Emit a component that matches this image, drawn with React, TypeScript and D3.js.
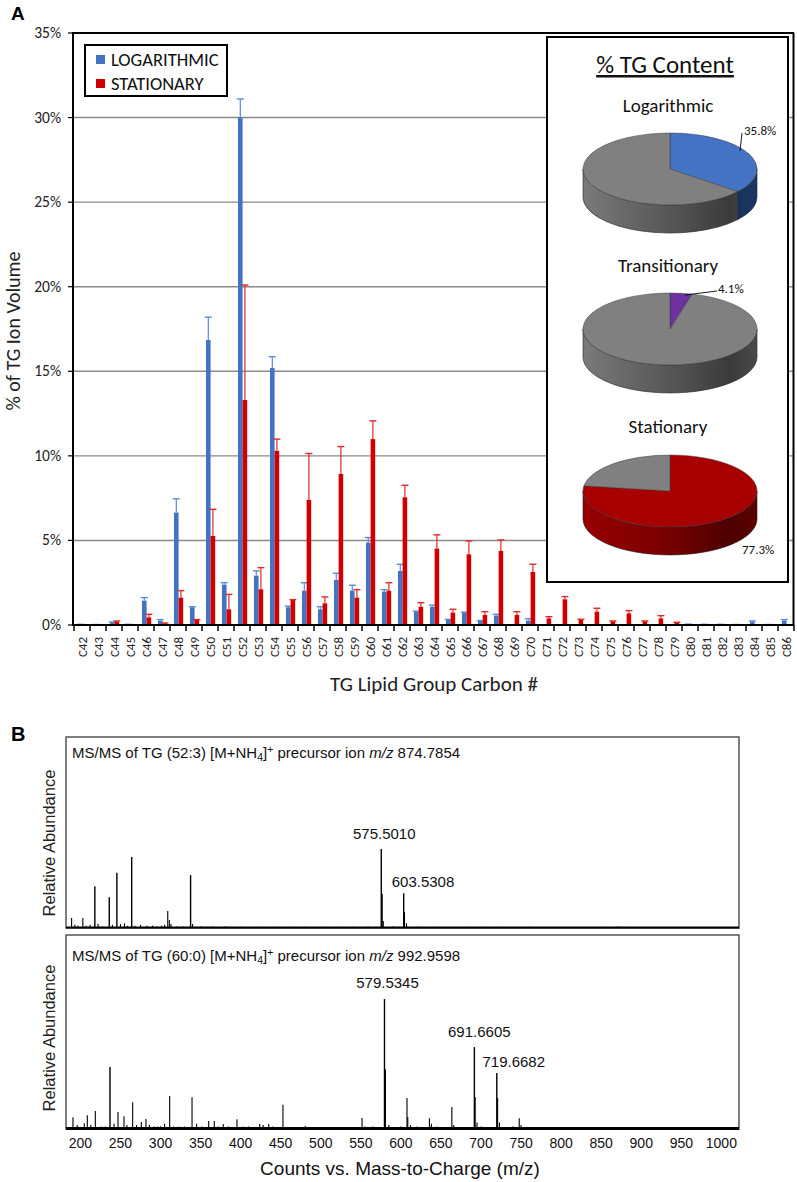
import React from 'react';
import * as d3 from 'd3';

// ---------- Panel A data ----------
const categories = ['C42','C43','C44','C45','C46','C47','C48','C49','C50','C51','C52','C53','C54','C55','C56','C57','C58','C59','C60','C61','C62','C63','C64','C65','C66','C67','C68','C69','C70','C71','C72','C73','C74','C75','C76','C77','C78','C79','C80','C81','C82','C83','C84','C85','C86'];
const logValues = [0.03,0.02,0.16,0.03,1.44,0.26,6.65,1.05,16.85,2.39,30.0,2.92,15.19,1.05,2.03,0.93,2.66,2.03,4.87,1.97,3.2,0.79,1.08,0.3,0.73,0.24,0.55,0,0.26,0,0,0,0,0,0,0,0,0,0.04,0.03,0.03,0.02,0.2,0.02,0.26];
const logErrors = [0.01,0.01,0.02,0.01,0.18,0.06,0.81,0.03,1.35,0.11,1.1,0.28,0.67,0.07,0.47,0.15,0.4,0.32,0.3,0.12,0.39,0.03,0.1,0.03,0.03,0.02,0.08,0,0.11,0,0,0,0,0,0,0,0,0,0.01,0.01,0.01,0.01,0.04,0.01,0.06];
const statValues = [0,0,0.2,0,0.45,0.1,1.62,0.3,5.27,0.93,13.3,2.11,10.3,1.48,7.4,1.28,8.93,1.62,10.99,2.03,7.55,1.08,4.52,0.73,4.18,0.59,4.38,0.59,3.14,0.39,1.52,0.3,0.79,0.22,0.69,0.22,0.39,0.14,0,0,0,0,0,0,0];
const statErrors = [0,0,0.04,0,0.18,0.02,0.41,0.02,1.57,0.88,6.8,1.28,0.69,0.02,2.74,0.38,1.62,0.47,1.08,0.47,0.71,0.24,0.81,0.2,0.79,0.2,0.65,0.2,0.45,0.1,0.16,0.04,0.2,0.02,0.16,0.02,0.16,0.02,0,0,0,0,0,0,0];
const yTicks = [0,5,10,15,20,25,30,35];
const seriesNames = ['LOGARITHMIC','STATIONARY'];

const pieTitles = ['Logarithmic','Transitionary','Stationary'];
const pieValues = [35.8, 4.1, 77.3];
const pieLabels = ['35.8%','4.1%','77.3%'];

// ---------- Panel B data ----------
const spec1Mz = [189,203,218,236,245.5,264,309,337.5,575.5,576.5,603.5,604.5,
  193,197,207,212,222,228,240,250,255,259,268,275,283,290,296,301,305,311,313,320,329,340,350,365,381,400,421,442,461,480,502,521,540,559,578,590,607,621,641,683,702,727,760,852,871,884];
const spec1Ab = [12.7,12.7,53,39,70,90,21.5,67,100,43,44,20,
  4,3,3,4,5,2,4,5,6,3,3,4,3,3,2,3,4,10,5,2,2,5,2,2,2,1.5,1.5,1.5,1.5,1.5,1.5,1.5,1.5,2,9,2,6,2,1.5,1.5,1.5,1.5,1.5,1.5,2,1.5];
const spec2Mz = [190.7,196,204.8,208.6,213,218.6,226,231,236.9,242,246.9,254.4,258,265.2,270,276,281.8,286,292,296,300,305,311.4,316,323,330,339.3,345,352,360.1,367.1,372,378.3,385,395.4,403,410,423.8,428,435,440,452.8,465,480.7,500,520,530,551.5,555,565,579.5,580.5,585,600,607.6,608.6,612,620,635.6,638,645,663.6,666,691.7,692.7,695,700,719.7,720.7,723,740,747.7,750,780,800,830,880,920,960,990];
const spec2Ab = [9,3,4.4,10.5,3,13.8,2,2,47.7,4,13,9.8,3,20.5,3,5.4,7.7,3,2,2,2,4,25.4,2,2,2,24.4,4,2,6.2,6.2,2,3.8,2,7.5,2,2,3.8,3,3.8,2,18.7,1.5,2.3,1.5,1.5,1.5,8.5,2,2,100,46,3,2,23.8,9.2,3,2,8.2,4,2,16.9,3,63,24.6,5,2,43,23.8,5,2,8.2,3,1.5,1.5,1.5,1.5,1.5,1.5,1.5];
const mzTicks = [200,250,300,350,400,450,500,550,600,650,700,750,800,850,900,950,1000];
const spec1Annot = [575.5010, 603.5308];
const spec1AnnotAb = [100, 44];
const spec2Annot = [579.5345, 691.6605, 719.6682];
const spec2AnnotAb = [100, 63, 43];

const BAR_FONT = "Carlito, Lato, 'Open Sans', sans-serif";
const SPEC_FONT = "'Liberation Sans', Arial, sans-serif";
const BLUE = '#4472C4';
const RED = '#D00000';

function BarPanel() {
  const left = 73, right = 794, top = 33, bottom = 625;
  const x0 = d3.scaleBand<string>().domain(categories).range([74, 794]);
  const x1 = d3.scaleBand<string>().domain(seriesNames).range([4, x0.bandwidth() - 2.8]);
  const y = d3.scaleLinear().domain([0, 35]).range([bottom, top]);
  const series = [
    { name: seriesNames[0], vals: logValues, errs: logErrors, color: BLUE, ecolor: '#5b8bd8' },
    { name: seriesNames[1], vals: statValues, errs: statErrors, color: RED, ecolor: '#e02a2a' },
  ];
  return (
    <g>
      <text x={11} y={20} fontFamily="Arial, 'Liberation Sans'" fontWeight="bold" fontSize={19}>A</text>
      {yTicks.filter(t => t > 0 && t < 35).map(t => (
        <line key={t} x1={left} x2={right} y1={y(t)} y2={y(t)} stroke="#8a8a8a" strokeWidth={1.4} />
      ))}
      {yTicks.map(t => (
        <g key={'yt' + t}>
          <line x1={left - 5} x2={left} y1={y(t)} y2={y(t)} stroke="#000" strokeWidth={1.2} />
          <text x={61} y={y(t) + 5} textAnchor="end" fontFamily={BAR_FONT} fontSize={15.5} fill="#222">{t}%</text>
        </g>
      ))}
      {series.map(s => categories.map((c, i) => {
        const v = s.vals[i];
        const bx = (x0(c) as number) + (x1(s.name) as number);
        const bw = x1.bandwidth();
        const cx = bx + bw / 2;
        const e = s.errs[i];
        return (
          <g key={s.name + c}>
            {v > 0 && <rect x={bx} y={y(v)} width={bw} height={y(0) - y(v)} fill={s.color} />}
            {e > 0 && <>
              <line x1={cx} x2={cx} y1={y(v)} y2={y(v + e)} stroke={s.ecolor} strokeWidth={1.2} />
              <line x1={cx - 3.5} x2={cx + 3.5} y1={y(v + e)} y2={y(v + e)} stroke={s.ecolor} strokeWidth={1.4} />
            </>}
          </g>
        );
      }))}
      {/* frame */}
      <line x1={left} x2={right} y1={top} y2={top} stroke="#000" strokeWidth={2} />
      <line x1={right - 0.5} x2={right - 0.5} y1={top} y2={bottom} stroke="#000" strokeWidth={2} />
      <line x1={left} x2={left} y1={top - 1} y2={bottom + 1} stroke="#000" strokeWidth={2} />
      <line x1={left} x2={right} y1={bottom} y2={bottom} stroke="#000" strokeWidth={2} />
      {categories.map(c => (
        <line key={'xt' + c} x1={x0(c)} x2={x0(c)} y1={bottom} y2={bottom + 6} stroke="#000" strokeWidth={1.5} />
      ))}
      <line x1={794} x2={794} y1={bottom} y2={bottom + 6} stroke="#000" strokeWidth={1.5} />
      {categories.map(c => {
        const cx = (x0(c) as number) + x0.bandwidth() / 2 + 5;
        return (
          <text key={'xl' + c} transform={`translate(${cx},637) rotate(-90)`} textAnchor="end"
            fontFamily={BAR_FONT} fontSize={13} fill="#222">{c}</text>
        );
      })}
      <text x={434} y={691} textAnchor="middle" fontFamily={BAR_FONT} fontSize={21} fill="#222">TG Lipid Group Carbon #</text>
      <text transform="translate(20,331) rotate(-90)" textAnchor="middle" fontFamily={BAR_FONT} fontSize={20} fill="#222">% of TG Ion Volume</text>
      {/* legend */}
      <rect x={85} y={45} width={142} height={51} fill="#fff" stroke="#000" strokeWidth={2} />
      {series.map((s, i) => (
        <g key={'lg' + i}>
          <rect x={96} y={55 + i * 24} width={9} height={9} fill={s.color} />
          <text x={111} y={65.5 + i * 24} fontFamily={BAR_FONT} fontSize={18.5} fill="#111">{s.name}</text>
        </g>
      ))}
    </g>
  );
}

function Pie3D({ idx, cy }: { idx: number; cy: number }) {
  const cx = 670, rx = 87, ry = 36, depth = 28;
  const v = pieValues[idx];
  const arcs = d3.pie<number>().sort(null).value(d => d)([v, 100 - v]);
  const topCols = [[BLUE, '#808080'], ['#7030A0', '#808080'], ['#A80000', '#808080']][idx];
  const sideGrad = [['blueSide', 'graySide'], ['purpleSide', 'graySide'], ['redSide', 'graySide']][idx];
  const pt = (a: number, dy = 0) => [cx + rx * Math.sin(a), cy - ry * Math.cos(a) + dy];
  const f = (p: number[]) => `${p[0].toFixed(2)},${p[1].toFixed(2)}`;
  const sides = arcs.map((a, i) => {
    const b0 = Math.max(a.startAngle, Math.PI / 2);
    const b1 = Math.min(a.endAngle, Math.PI * 1.5);
    if (b1 <= b0) return null;
    const d = `M${f(pt(b0))} A${rx},${ry} 0 0 1 ${f(pt(b1))} L${f(pt(b1, depth))} A${rx},${ry} 0 0 0 ${f(pt(b0, depth))} Z`;
    return <path key={'s' + i} d={d} fill={`url(#${sideGrad[i]}${idx})`} stroke="#222" strokeWidth={0.6} />;
  });
  const tops = arcs.map((a, i) => {
    const large = a.endAngle - a.startAngle > Math.PI ? 1 : 0;
    const d = `M${cx},${cy} L${f(pt(a.startAngle))} A${rx},${ry} 0 ${large} 1 ${f(pt(a.endAngle))} Z`;
    return <path key={'t' + i} d={d} fill={topCols[i]} stroke="#3a3a3a" strokeWidth={0.5} />;
  });
  const grads: Record<string, string[]> = {
    graySide: ['#7a7a7a', '#5a5a5a', '#3a3a3a', '#4a4a4a'],
    blueSide: ['#2a4a85', '#203c6c', '#17305a', '#1c3766'],
    purpleSide: ['#5a2480', '#4a1c6a', '#3a1454', '#42185e'],
    redSide: ['#980000', '#7a0000', '#4e0000', '#5c0000'],
  };
  return (
    <g>
      <defs>
        {Object.keys(grads).map(k => (
          <linearGradient key={k} id={k + idx} gradientUnits="userSpaceOnUse" x1={cx - rx} x2={cx + rx} y1={0} y2={0}>
            <stop offset="0" stopColor={grads[k][0]} />
            <stop offset="0.45" stopColor={grads[k][1]} />
            <stop offset="0.85" stopColor={grads[k][2]} />
            <stop offset="1" stopColor={grads[k][3]} />
          </linearGradient>
        ))}
      </defs>
      {sides}
      {tops}
    </g>
  );
}

function PieInset() {
  const cys = [169, 329, 491];
  const titleY = [112, 272, 433];
  return (
    <g>
      <rect x={547} y={37} width={241} height={545} fill="#fff" stroke="#000" strokeWidth={2} />
      <text x={665} y={73} textAnchor="middle" fontFamily={BAR_FONT} fontSize={25} fill="#111" textDecoration="underline">% TG Content</text>
      {pieTitles.map((t, i) => (
        <text key={t} x={668} y={titleY[i]} textAnchor="middle" fontFamily={BAR_FONT} fontSize={19} fill="#111">{t}</text>
      ))}
      {cys.map((cy, i) => <Pie3D key={i} idx={i} cy={cy} />)}
      <line x1={742} y1={133} x2={740} y2={151} stroke="#000" strokeWidth={0.9} />
      <text x={744} y={135} fontFamily={BAR_FONT} fontSize={13} fill="#111">{pieLabels[0]}</text>
      <line x1={685} y1={295} x2={717} y2={291} stroke="#000" strokeWidth={0.9} />
      <text x={718} y={293} fontFamily={BAR_FONT} fontSize={13} fill="#111">{pieLabels[1]}</text>
      <text x={742} y={554} fontFamily={BAR_FONT} fontSize={13} fill="#111">{pieLabels[2]}</text>
    </g>
  );
}

type SpecProps = {
  top: number; bottom: number; mz: number[]; ab: number[]; maxAb: number;
  title: React.ReactNode; titleY: number; labelY: number;
  annot: number[]; annotAb: number[]; annotDx: number[]; annotDy: number[]; annotAnchor: string[];
  baseW: number;
};

function Spectrum(p: SpecProps) {
  const x = d3.scaleLinear().domain([182, 1022]).range([66, 739]);
  const y = d3.scaleLinear().domain([0, p.maxAb]).range([p.bottom, p.top]);
  return (
    <g>
      <rect x={66} y={p.top} width={673} height={p.bottom - p.top} fill="none" stroke="#555" strokeWidth={1.5} />
      <text transform={`translate(55,${p.labelY}) rotate(-90)`} textAnchor="middle" fontFamily={SPEC_FONT} fontSize={16.5} fill="#222">Relative Abundance</text>
      {p.mz.map((m, i) => (
        <line key={i} x1={x(m)} x2={x(m)} y1={y(0)} y2={y(p.ab[i])} stroke="#000" strokeWidth={p.ab[i] > 30 ? 1.4 : 1.1} />
      ))}
      <line x1={66} x2={739} y1={p.bottom - 0.5} y2={p.bottom - 0.5} stroke="#000" strokeWidth={p.baseW} />
      <text x={72} y={p.titleY} fontFamily={SPEC_FONT} fontSize={15} fill="#111">{p.title}</text>
      {p.annot.map((a, i) => (
        <text key={'a' + i} x={x(a) + p.annotDx[i]} y={y(p.annotAb[i]) + p.annotDy[i]} textAnchor={p.annotAnchor[i]}
          fontFamily={SPEC_FONT} fontSize={15} fill="#111">{a.toFixed(4)}</text>
      ))}
    </g>
  );
}

function SpecTitle({ tg, prec }: { tg: string; prec: string }) {
  return (
    <>
      {`MS/MS of TG (${tg}) [M+NH`}
      <tspan fontSize={10.5} dy={3}>4</tspan>
      <tspan dy={-3}>]</tspan>
      <tspan fontSize={10.5} dy={-5}>+</tspan>
      <tspan dy={5}>{' precursor ion '}</tspan>
      <tspan fontStyle="italic">m/z</tspan>
      <tspan>{' ' + prec}</tspan>
    </>
  );
}

function SpectrumPanel() {
  const x = d3.scaleLinear().domain([182, 1022]).range([66, 739]);
  return (
    <g>
      <text x={11} y={741} fontFamily="Arial, 'Liberation Sans'" fontWeight="bold" fontSize={20}>B</text>
      <Spectrum top={737} bottom={928} mz={spec1Mz} ab={spec1Ab} maxAb={241.8}
        title={<SpecTitle tg="52:3" prec="874.7854" />} titleY={758} labelY={843}
        annot={spec1Annot} annotAb={spec1AnnotAb} annotDx={[3, -12]} annotDy={[-10, -6]} annotAnchor={['middle', 'start']}
        baseW={1.8} />
      <Spectrum top={935} bottom={1129} mz={spec2Mz} ab={spec2Ab} maxAb={149.2}
        title={<SpecTitle tg="60:0" prec="992.9598" />} titleY={961} labelY={1038}
        annot={spec2Annot} annotAb={spec2AnnotAb} annotDx={[3, 5, 17]} annotDy={[-11, -10, -6]} annotAnchor={['middle', 'middle', 'middle']}
        baseW={3} />
      {mzTicks.map(t => (
        <text key={t} x={x(t)} y={1148} textAnchor="middle" fontFamily={SPEC_FONT} fontSize={14} fill="#111">{t}</text>
      ))}
      <text x={400} y={1175} textAnchor="middle" fontFamily={SPEC_FONT} fontSize={19} fill="#111">Counts vs. Mass-to-Charge (m/z)</text>
    </g>
  );
}

export default function App() {
  return (
    <svg width={797} height={1182} style={{ position: 'absolute', left: 0, top: 0, display: 'block' }}>
      <rect width={797} height={1182} fill="#fff" />
      <BarPanel />
      <PieInset />
      <SpectrumPanel />
    </svg>
  );
}
